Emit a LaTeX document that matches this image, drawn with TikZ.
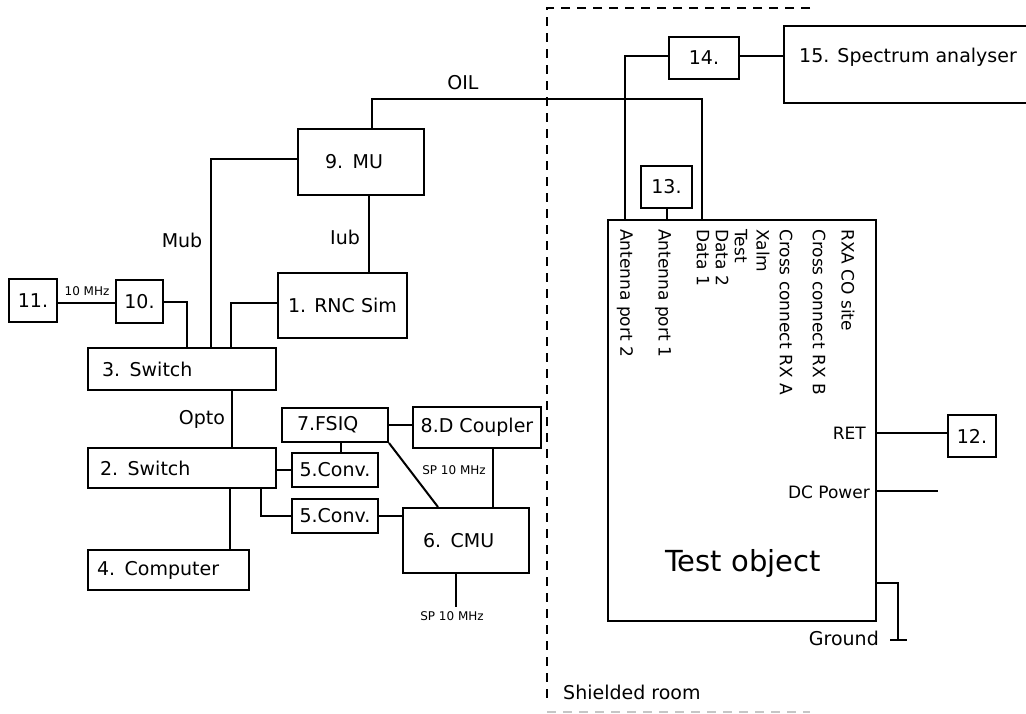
\documentclass[tikz,border=0pt]{standalone}
\usepackage{fontspec}
\setmainfont{DejaVu Sans}
\usetikzlibrary{calc}
\begin{document}
\begin{tikzpicture}[x=1pt,y=-1pt,
  wire/.style={line width=2pt},
  box/.style={draw, line width=2pt, inner sep=0pt, font=\fontsize{19pt}{23pt}\selectfont},
  lbox/.style={box, align=left},
  lab/.style={inner sep=0pt, font=\fontsize{19pt}{23pt}\selectfont},
  small/.style={inner sep=0pt, font=\fontsize{12pt}{14pt}\selectfont},
  rot/.style={rotate=-90, anchor=west, inner sep=0pt, font=\fontsize{17pt}{20pt}\selectfont},
  side/.style={anchor=east, inner sep=0pt, font=\fontsize{17pt}{20pt}\selectfont},
  shield/.style={line width=2pt, dash pattern=on 9pt off 7pt}]
\useasboundingbox (0,0) rectangle (1026,713);

% left side boxes
\node[box, minimum width=48pt, minimum height=43pt] (n11) at (33,300.5) {11.};
\node[box, minimum width=47pt, minimum height=43pt] (n10) at (139.5,301.5) {10.};
\node[lbox, minimum width=188pt, minimum height=42pt, text width=160pt, inner xsep=14pt] (n3) at (182,369) {3. Switch};
\node[lbox, minimum width=126pt, minimum height=66pt, text width=72pt, inner xsep=27pt] (n9) at (361,162) {9. MU};
\node[box, minimum width=129pt, minimum height=65pt] (n1) at (342.5,305.5) {1. RNC Sim};
\node[lbox, minimum width=188pt, minimum height=40pt, text width=164pt, inner xsep=12pt] (n2) at (182,468) {2. Switch};
\node[lbox, minimum width=161pt, minimum height=40pt, text width=143pt, inner xsep=9pt] (n4) at (168.5,570) {4. Computer};
\node[lbox, minimum width=106pt, minimum height=34pt, text width=76pt, inner xsep=15pt] (n7) at (335,425) {7.FSIQ};
\node[box, minimum width=128pt, minimum height=41pt] (n8) at (477,427.5) {8.D Coupler};
\node[box, minimum width=86pt, minimum height=34pt] (n5a) at (335,470) {5.Conv.};
\node[box, minimum width=86pt, minimum height=34pt] (n5b) at (335,516) {5.Conv.};
\node[lbox, minimum width=126pt, minimum height=65pt, text width=86pt, inner xsep=20pt] (n6) at (466,540.5) {6. CMU};

% right side boxes
\node[box, minimum width=70pt, minimum height=42pt] (n14) at (704,58) {14.};
\node[box, minimum width=51pt, minimum height=42pt] (n13) at (666.5,187) {13.};
\node[box, minimum width=246pt, minimum height=77pt] (n15) at (907,64.5) {};
\node[lab, anchor=west] (n15t) at (799,57) {15. Spectrum analyser};
\node[box, minimum width=48pt, minimum height=42pt] (n12) at (972,436) {12.};
\node[box, minimum width=268pt, minimum height=401pt] (TO) at (742,420.5) {};
\node[inner sep=0pt, font=\fontsize{29pt}{34pt}\selectfont] (TOt) at (743,563) {Test object};

% port labels
\node[rot] (p1) at (625,229) {Antenna port 2};
\node[rot] (p2) at (663,229) {Antenna port 1};
\node[rot] (p3) at (703,229) {Data 1};
\node[rot] (p4) at (722,229) {Data 2};
\node[rot] (p5) at (741,229) {Test};
\node[rot] (p6) at (763,229) {Xalm};
\node[rot] (p7) at (786,229) {Cross connect RX A};
\node[rot] (p8) at (819,229) {Cross connect RX B};
\node[rot] (p9) at (848,229) {RXA CO site};
\node[side] (ret) at (866,433) {RET};
\node[side] (dcp) at (870,492) {DC Power};
\node[lab, anchor=east] (gndt) at (879,638) {Ground};

% connector labels
\node[small] (l10) at (87,291) {10 MHz};
\node[lab] (lmub) at (182,240) {Mub};
\node[lab] (liub) at (345,237) {Iub};
\node[lab] (lopto) at (202,419) {Opto};
\node[lab] (loil) at (463,83) {OIL};
\node[small] (lsp1) at (454,470) {SP 10 MHz};
\node[small] (lsp2) at (452,616) {SP 10 MHz};
\node[lab, anchor=west] (lshield) at (563,692) {Shielded room};

% coordinates
\coordinate (oilc) at (702,99);
\coordinate (sp2) at (456,607);
\coordinate (dcend) at (938,491);
\coordinate (gndc) at (898,583);
\coordinate (gnd) at (898,640);

% connectors
\draw[wire] ([yshift=-2pt]n11.east) -- ([yshift=-2pt]n11.east -| n10.west);
\draw[wire] (n10.east) -| ([xshift=100pt]n3.north west);
\draw[wire] ([xshift=124pt]n3.north west) |- ([yshift=3pt]n9.west);
\draw[wire] ([xshift=8pt]n9.south) -- ([xshift=8pt]n9.south |- n1.north);
\draw[wire] ([yshift=3pt]n1.west) -| ([xshift=144pt]n3.north west);
\draw[wire] ([xshift=145pt]n3.south west) -- ([xshift=145pt]n2.north west);
\draw[wire] (n5a.west -| n2.east) -- (n5a.west);
\draw[wire] ([xshift=6pt]n7.south) -- ([xshift=6pt]n5a.north);
\draw[wire] ([xshift=174pt]n2.south west) |- (n5b.west);
\draw[wire] (n5b.east) -- (n5b.east -| n6.west);
\draw[wire] ([xshift=143pt]n2.south west) -- ([xshift=143pt]n2.south west |- n4.north);
\draw[wire] (n7.east) -- (n7.east -| n8.west);
\draw[wire] (n7.south east) -- ([xshift=36pt]n6.north west);
\draw[wire] ([xshift=81pt]n8.south west) -- ([xshift=81pt]n8.south west |- n6.north);
\draw[wire] (sp2 |- n6.south) -- (sp2);
\draw[wire] ([xshift=11pt]n9.north) |- (oilc) -- (oilc |- TO.north);
\draw[wire] ([yshift=2pt]n14.east) -- ([yshift=2pt]n14.east -| n15.west);
\draw[wire] ([yshift=2pt]n14.west) -| ([xshift=18pt]TO.north west);
\draw[wire] (n13.south) -- (n13.south |- TO.north);
\draw[wire] ([yshift=3pt]n12.west -| TO.east) -- ([yshift=3pt]n12.west);
\draw[wire] (dcend -| TO.east) -- (dcend);
\draw[wire] (gndc -| TO.east) -- (gndc) -- (gnd);
\draw[wire] ([xshift=-8pt]gnd) -- ([xshift=9pt]gnd);

% shielded room
\draw[shield] (810,8) -- (547,8) -- (547,705);
\draw[shield, gray!45] (547,712) -- (810,712);
\end{tikzpicture}
\end{document}
